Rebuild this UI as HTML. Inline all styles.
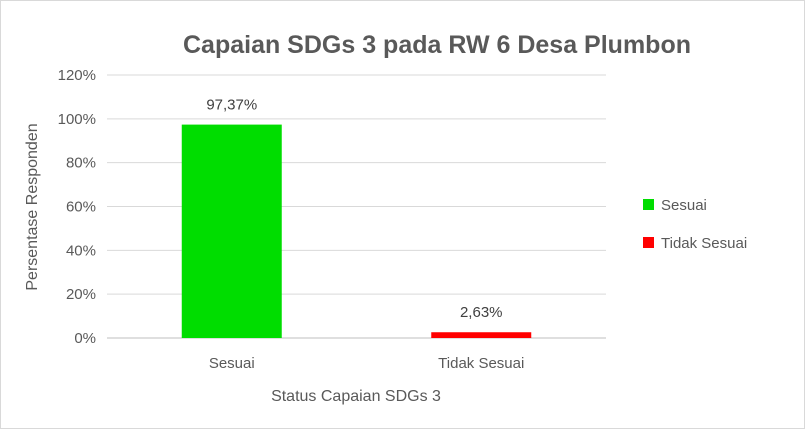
<!DOCTYPE html>
<html><head><meta charset="utf-8"><style>
body{margin:0;background:#fff;}
svg{display:block;font-family:"Liberation Sans",sans-serif;}
</style></head><body>
<svg id="chart" width="805" height="429">
<rect x="0.5" y="0.5" width="804" height="428" fill="#fff" stroke="#d9d9d9"/>
<text x="437" y="53" text-anchor="middle" font-size="25" font-weight="bold" fill="#595959">Capaian SDGs 3 pada RW 6 Desa Plumbon</text>
<g id="grid"></g><g id="bars"></g><g id="labels"></g>
<text x="356" y="401" text-anchor="middle" font-size="16" fill="#595959">Status Capaian SDGs 3</text>
<text transform="translate(37,207) rotate(-90)" text-anchor="middle" font-size="16" fill="#595959">Persentase Responden</text>
<g id="legend"></g>
</svg>
<script>
const categories=["Sesuai","Tidak Sesuai"];
const values=[97.37,2.63];
const valueLabels=["97,37%","2,63%"];
const colors=["#00dd00","#ff0000"];
const ticks=[0,20,40,60,80,100,120];
const NS="http://www.w3.org/2000/svg";
const x0=107,x1=606,y0=338,y1=75;
const y=v=>y0-(v/120)*(y0-y1);
const band=(x1-x0)/categories.length;
function mk(tag,attrs,parent,text){const e=document.createElementNS(NS,tag);for(const k in attrs)e.setAttribute(k,attrs[k]);if(text!==undefined)e.textContent=text;parent.appendChild(e);return e;}
const g=document.getElementById('grid'),b=document.getElementById('bars'),l=document.getElementById('labels'),lg=document.getElementById('legend');
ticks.forEach(t=>{
 const ln=mk('line',{x1:x0,x2:x1,y1:y(t),y2:y(t),stroke:t===0?'#bfbfbf':'#d9d9d9','stroke-width':1},g);
 
 
 const tx=mk('text',{x:96,y:y(t)+5,'text-anchor':'end','font-size':15,fill:'#595959'},g,t+'%');
 
 
});
categories.forEach((c,i)=>{
 const cx=x0+band*(i+0.5);
 const r=mk('rect',{x:cx-50,y:y(values[i]),width:100,height:y0-y(values[i]),fill:colors[i]},b);
 
 
 const vl=mk('text',{x:cx,y:y(values[i])-15,'text-anchor':'middle','font-size':15,fill:'#404040'},l,valueLabels[i]);
 
 
 const cl=mk('text',{x:cx,y:368,'text-anchor':'middle','font-size':15,fill:'#595959'},l,c);
 
 
 const ly=199+i*38;
 const sw=mk('rect',{x:643,y:ly,width:11,height:11,fill:colors[i]},lg);
 
 
 const lt=mk('text',{x:661,y:ly+11,'font-size':15,fill:'#595959'},lg,c);
 
 
});
</script>
</body></html>
